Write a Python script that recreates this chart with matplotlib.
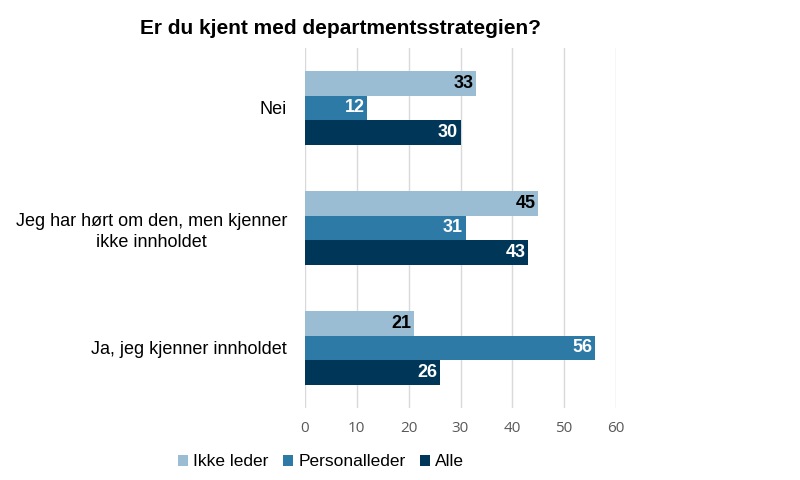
import numpy as np
import matplotlib
matplotlib.use('Agg')
import matplotlib.pyplot as plt

# data
categories = ['Nei', 'Jeg har hørt om den, men kjenner\nikke innholdet', 'Ja, jeg kjenner innholdet']
series_names = ['Ikke leder', 'Personalleder', 'Alle']
ikke_leder = [33, 45, 21]
personalleder = [12, 31, 56]
alle = [30, 43, 26]
colors = ['#9bbdd3', '#2e7aa7', '#003657']
label_colors = ['black', 'white', 'white']

plt.rcParams['font.family'] = ['Liberation Sans', 'DejaVu Sans']

fig = plt.figure(figsize=(8, 4.8), dpi=100)
ax = fig.add_axes([305 / 800, 1 - 408 / 480, (616 - 305) / 800, 360 / 480])

y = np.arange(len(categories))
h = 0.205
for k, vals in enumerate([ikke_leder, personalleder, alle]):
    pos = y + (k - 1) * h
    bars = ax.barh(pos, vals, height=h, color=colors[k], label=series_names[k], zorder=2)
    for b, v in zip(bars, vals):
        ax.text(b.get_width() - 0.5, b.get_y() + b.get_height() / 2, str(v),
                ha='right', va='center', fontsize=13, fontweight='bold',
                color=label_colors[k], zorder=3)

ax.set_xlim(0, 60)
ax.set_ylim(2.5, -0.5)
ax.set_xticks(range(0, 61, 10))
ax.set_yticks(y)
ax.set_yticklabels(categories, fontsize=13, multialignment='center', linespacing=1.3)
ax.tick_params(axis='y', length=0, pad=13)
ax.tick_params(axis='x', length=0, pad=9, labelsize=11, labelcolor='#595959')
for lab in ax.get_xticklabels():
    lab.set_fontfamily(['Open Sans', 'DejaVu Sans'])
ax.grid(axis='x', color='#d9d9d9', linewidth=1, zorder=0)
for s in ax.spines.values():
    s.set_visible(False)

fig.text(341 / 800, 1 - 28 / 480, 'Er du kjent med departmentsstrategien?',
         ha='center', va='center', fontsize=15, fontweight='bold')

fig.legend(loc='center', bbox_to_anchor=(321 / 800, 1 - 462 / 480), ncol=3,
           frameon=False, fontsize=12.5, handlelength=0.6, handleheight=0.6,
           handletextpad=0.3, columnspacing=0.8)

fig.savefig('out.png', dpi=100)
